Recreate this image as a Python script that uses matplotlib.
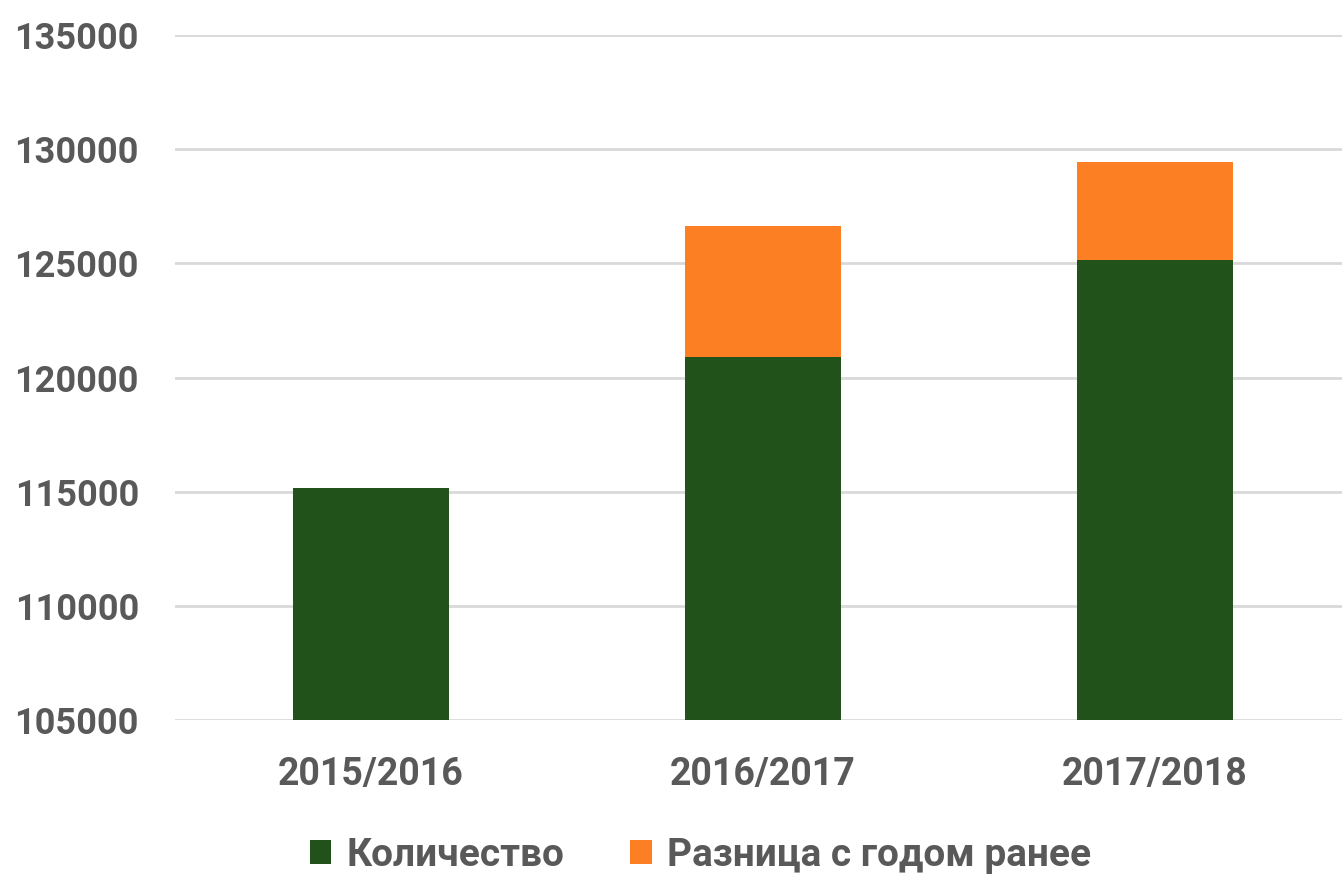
import matplotlib.pyplot as plt
import numpy as np

years = ['2015/2016', '2016/2017', '2017/2018']
kolichestvo = [115150, 120900, 125150]
raznica = [0, 5750, 4300]
yticks = [105000, 110000, 115000, 120000, 125000, 130000, 135000]

green = '#205219'
orange = '#FD7F23'
textc = '#595959'

plt.rcParams['font.family'] = ['Roboto', 'DejaVu Sans']
plt.rcParams['font.weight'] = 'bold'

fig = plt.figure(figsize=(13.42, 8.74), dpi=100)
ax = fig.add_axes([175 / 1342, 1 - 720 / 874, 1176 / 1342, 685 / 874])

x = np.arange(len(years))
ax.bar(x, kolichestvo, width=0.4, color=green, label='Количество', zorder=2)
ax.bar(x, raznica, width=0.4, bottom=kolichestvo, color=orange,
       label='Разница с годом ранее', zorder=2)

ax.set_xlim(-0.5, 2.5)
ax.set_ylim(105000, 135000)
ax.set_yticks(yticks)
ax.set_yticklabels([str(v) for v in yticks])
ax.set_xticks(x)
ax.set_xticklabels(years)
ax.yaxis.grid(True, color='#D9D9D9', linewidth=2, zorder=0)
ax.set_axisbelow(True)
for s in ax.spines.values():
    s.set_visible(False)
ax.tick_params(axis='both', length=0, colors=textc, labelsize=26)
ax.tick_params(axis='x', labelsize=27)
ax.tick_params(axis='y', pad=26)
ax.tick_params(axis='x', pad=26)

fig.legend(loc='lower center', ncol=2, frameon=False, fontsize=28,
           labelcolor=textc, handlelength=0.55, handleheight=0.55,
           handletextpad=0.4, columnspacing=1.7, bbox_to_anchor=(0.522, -0.04))

fig.savefig('out.png', dpi=100)
